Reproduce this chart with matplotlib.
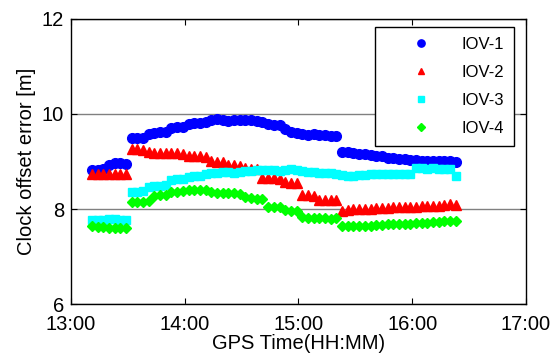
import numpy as np
import matplotlib
matplotlib.use('Agg')
import matplotlib.pyplot as plt

plt.rcParams['font.family'] = ['Liberation Sans', 'DejaVu Sans']

# time of each sample, minutes after 13:00
t_min = [11, 14, 17, 20, 23, 26, 29, 32, 35, 38, 41, 44, 47, 50, 53, 56, 59,
         62, 65, 68, 71, 74, 77, 80, 83, 86, 89, 92, 95, 98, 101, 104, 107,
         110, 113, 116, 119, 122, 125, 128, 131, 134, 137, 140, 143, 146, 149,
         152, 155, 158, 161, 164, 167, 170, 173, 176, 179, 182, 185, 188, 191,
         194, 197, 200, 203]

iov1 = [8.83, 8.83, 8.85, 8.93, 8.97, 8.97, 8.94,
        9.49, 9.49, 9.50,
        9.58, 9.60, 9.62, 9.62,
        9.70, 9.72, 9.72,
        9.78, 9.80, 9.82, 9.84,
        9.88, 9.89, 9.88, 9.86, 9.87, 9.88, 9.88, 9.87, 9.86,
        9.83,
        9.78, 9.77, 9.76,
        9.68, 9.63, 9.61,
        9.57, 9.55, 9.57,
        9.56, 9.55, 9.54, 9.54,
        9.20, 9.19,
        9.18, 9.16, 9.15, 9.14,
        9.12, 9.11,
        9.08, 9.07, 9.06, 9.05,
        9.04, 9.03, 9.02, 9.02, 9.01, 9.01, 9.00, 9.00, 8.99]

iov2 = [8.74, 8.74, 8.74, 8.74, 8.74, 8.74, 8.74,
        9.26, 9.26, 9.25,
        9.19, 9.18, 9.18, 9.18, 9.17, 9.17, 9.16,
        9.12, 9.11, 9.11, 9.10,
        9.00, 8.99, 8.98,
        8.93, 8.92, 8.91,
        8.86, 8.85, 8.84,
        8.66, 8.65, 8.65, 8.64,
        8.56, 8.55, 8.54,
        8.30, 8.29, 8.28,
        8.20, 8.19, 8.19, 8.18,
        7.96, 7.97,
        7.99, 8.00, 8.01, 8.01, 8.02,
        8.03, 8.03, 8.04, 8.04, 8.04, 8.05, 8.05,
        8.06, 8.06, 8.06, 8.07, 8.08,
        8.11, 8.09]

iov3 = [7.76, 7.76, 7.77, 7.79, 7.78, 7.77, 7.77,
        8.35, 8.36, 8.37,
        8.46, 8.48, 8.49, 8.50,
        8.62, 8.63, 8.64,
        8.68, 8.69, 8.70,
        8.74, 8.75, 8.76, 8.77, 8.77, 8.76, 8.77,
        8.80, 8.81, 8.82, 8.83, 8.82, 8.82, 8.81,
        8.83, 8.84, 8.83,
        8.79, 8.78, 8.77,
        8.76, 8.75, 8.76, 8.74,
        8.71, 8.70, 8.70, 8.72, 8.72, 8.73, 8.73, 8.74, 8.74, 8.73, 8.73,
        8.74, 8.74,
        8.86, 8.86, 8.85, 8.86, 8.85, 8.85, 8.85,
        8.70]

iov4 = [7.64, 7.63, 7.62, 7.60, 7.60, 7.60, 7.60,
        8.15, 8.15, 8.15, 8.16,
        8.27, 8.29, 8.30,
        8.35, 8.36, 8.37,
        8.39, 8.40, 8.41, 8.39,
        8.35, 8.34, 8.34, 8.34, 8.33, 8.32,
        8.26, 8.24, 8.22, 8.21,
        8.05, 8.04, 8.04,
        7.97, 7.96, 7.95,
        7.83, 7.82, 7.82, 7.81, 7.81, 7.80, 7.81,
        7.65, 7.64, 7.64, 7.64, 7.65, 7.65, 7.66,
        7.67, 7.68, 7.68, 7.68, 7.69, 7.69,
        7.70, 7.71, 7.71, 7.72, 7.72,
        7.74, 7.75, 7.74]

labels = ['IOV-1', 'IOV-2', 'IOV-3', 'IOV-4']
xtick_labels = ['13:00', '14:00', '15:00', '16:00', '17:00']

# time axis in hours
t_hr = 13 + np.array(t_min) / 60.0

fig = plt.figure(figsize=(5.52, 3.63), dpi=100)
ax = fig.add_axes([0.1286, 0.1625, 0.8243, 0.7852])

ax.plot(t_hr, iov1, 'o', color=(0, 0, 1), mec=(0, 0, 1), ms=7, label=labels[0])
ax.plot(t_hr, iov2, '^', color=(1, 0, 0), mec=(1, 0, 0), ms=6.5, label=labels[1])
ax.plot(t_hr, iov3, 's', color=(0, 1, 1), mec=(0, 1, 1), ms=6, label=labels[2])
ax.plot(t_hr, iov4, 'D', color=(0, 1, 0), mec=(0, 1, 0), ms=5, label=labels[3])

ax.set_xlim(13, 17)
ax.set_ylim(6, 12)
ax.set_xticks([13, 14, 15, 16, 17])
ax.set_xticklabels(xtick_labels)
ax.set_yticks([6, 8, 10, 12])
ax.yaxis.grid(True, color='gray', linewidth=1)
ax.set_axisbelow(True)
ax.tick_params(direction='in', top=True, right=True, labelsize=14.5, length=4)
ax.tick_params(axis='x', pad=8)
ax.tick_params(axis='y', pad=5)
for s in ax.spines.values():
    s.set_linewidth(1)

ax.set_xlabel('GPS Time(HH:MM)', fontsize=14.5, labelpad=0)
ax.set_ylabel('Clock offset error [m]', fontsize=14.5, labelpad=4)

leg = ax.legend(loc='upper right', bbox_to_anchor=(0.974, 0.972), borderaxespad=0,
                fontsize=12, numpoints=1, fancybox=False, framealpha=1,
                edgecolor='black', handlelength=4.3, handletextpad=0.3,
                labelspacing=0.78, borderpad=0.6, markerscale=0.75)
leg.get_frame().set_linewidth(1)

fig.savefig('out.png', dpi=100)
